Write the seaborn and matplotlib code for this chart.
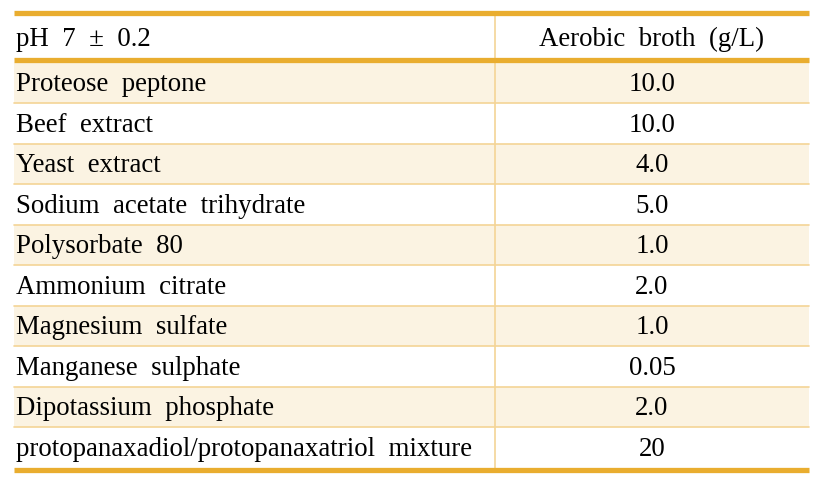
import matplotlib
matplotlib.use('Agg')
import matplotlib.pyplot as plt
import seaborn as sns

# Table content
header_left = 'pH  7  ±  0.2'
header_right = 'Aerobic  broth  (g/L)'
ingredients = ['Proteose  peptone', 'Beef  extract', 'Yeast  extract',
               'Sodium  acetate  trihydrate', 'Polysorbate  80', 'Ammonium  citrate',
               'Magnesium  sulfate', 'Manganese  sulphate', 'Dipotassium  phosphate',
               'protopanaxadiol/protopanaxatriol  mixture']
amounts = ['10.0', '10.0', '4.0', '5.0', '1.0', '2.0', '1.0', '0.05', '2.0', '20']

gold = '#E9AD2F'
shade = '#FBF3E2'
thin = '#F4D496'

sns.set_theme(style='white')
plt.rcParams['font.family'] = ['Liberation Serif', 'DejaVu Serif']

fig = plt.figure(figsize=(8.23, 4.82), dpi=100)
ax = fig.add_axes([0, 0, 1, 1])
ax.set_xlim(0, 823)
ax.set_ylim(482, 0)
ax.axis('off')

# layout (pixels)
x_left, x_div, x_right = 14, 495, 809
top_line, head_line, bottom_line = 12.5, 60, 470
row_top = 62.5
row_h = (bottom_line - 2.5 - row_top) / len(ingredients)

# shaded rows
for i in range(len(ingredients)):
    y0 = row_top + i * row_h
    if i % 2 == 0:
        ax.fill_between([x_left, x_right], y0, y0 + row_h, color=shade, lw=0, zorder=0)
    if i > 0:
        ax.plot([x_left, x_right], [y0, y0], color=thin, lw=1.2, zorder=1)

# vertical divider
ax.plot([x_div, x_div], [top_line, bottom_line], color=thin, lw=1.2, zorder=1)

# thick rules
for y in [top_line, head_line, bottom_line]:
    ax.plot([x_left, x_right], [y, y], color=gold, lw=3.8, solid_capstyle='butt', zorder=2)

fs = 19.4
ax.text(x_left + 2, (top_line + head_line) / 2, header_left, fontsize=fs,
        va='center_baseline', ha='left', color='black')
ax.text((x_div + x_right) / 2, (top_line + head_line) / 2, header_right, fontsize=fs,
        va='center_baseline', ha='center', color='black')

for i, (name, amt) in enumerate(zip(ingredients, amounts)):
    yc = row_top + (i + 0.5) * row_h - 1
    ax.text(x_left + 2, yc, name, fontsize=fs, va='center_baseline', ha='left', color='black')
    ax.text((x_div + x_right) / 2, yc, amt, fontsize=fs, va='center_baseline', ha='center', color='black')

fig.savefig('out.png', dpi=100)
